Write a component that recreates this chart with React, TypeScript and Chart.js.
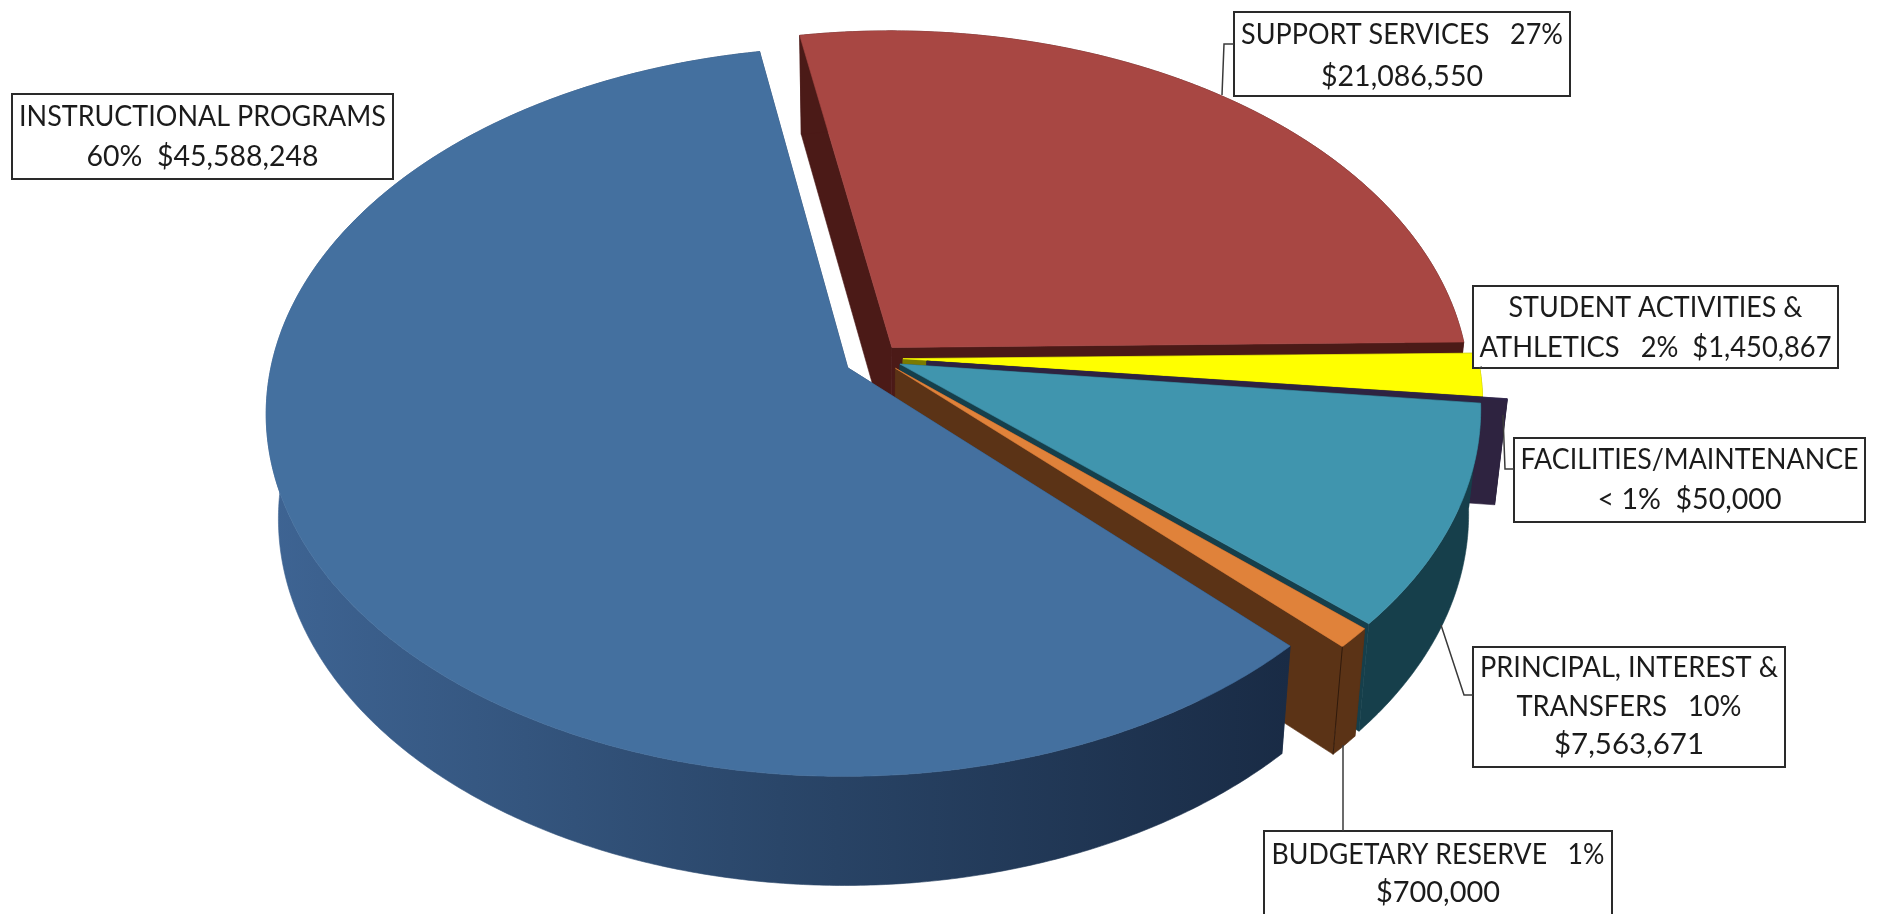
import React, { useEffect, useRef } from "react";
import { Chart, registerables } from "chart.js";

Chart.register(...registerables);

// Budget categories, clockwise from the back of the pie
const categories = [
  "Support Services",
  "Student Activities & Athletics",
  "Facilities/Maintenance",
  "Principal, Interest & Transfers",
  "Budgetary Reserve",
  "Instructional Programs",
];
const amounts = [21086550, 1450867, 50000, 7563671, 700000, 45588248];

// Explosion of each slice, in pixels along its middle direction
const explosion = [22, 25, 49, 24, 24, 34];

const topColors = ["#A84743", "#FFFF00", "#2E2349", "#4095AE", "#E0823A", "#44709F"];
const wallColors = [
  ["#4B1A17"],
  ["#7A7A00"],
  ["#2E2340"],
  ["#163F4B"],
  ["#5B3316"],
  ["#3E6493", "#2A4669", "#192B45"],
];

const calloutLines = [
  ["SUPPORT SERVICES   27%", "$21,086,550"],
  ["STUDENT ACTIVITIES &", "ATHLETICS   2%  $1,450,867"],
  ["FACILITIES/MAINTENANCE", "< 1%  $50,000"],
  ["PRINCIPAL, INTEREST &", "TRANSFERS   10%", "$7,563,671"],
  ["BUDGETARY RESERVE   1%", "$700,000"],
  ["INSTRUCTIONAL PROGRAMS", "60%  $45,588,248"],
];

// Drawn width of each text line
const calloutLineWidths = [
  [322, 162],
  [294, 352],
  [338, 184],
  [298, 225, 150],
  [333, 124],
  [367, 232],
];

// x, y, width, height of each callout box
const calloutBoxes = [
  [1234, 12, 336, 84],
  [1473, 286, 365, 82],
  [1514, 438, 351, 84],
  [1473, 647, 312, 120],
  [1264, 831, 348, 95],
  [12, 94, 381, 85],
];
const calloutLeaders = [
  [[1234, 44], [1224, 44], [1222, 95]],
  [[1479, 368], [1482, 367]],
  [[1514, 469], [1505, 469], [1503, 415]],
  [[1473, 695], [1464, 695], [1441, 625]],
  [[1343, 831], [1343, 745]],
  [],
];
const calloutBaselines = [
  [35, 77],
  [308, 348],
  [460, 500],
  [668, 707, 745],
  [855, 893],
  [117, 157],
];

// Camera model of the 3D pie
const CX = 878;
const CY = 358;
const AX = 575;
const AY = 357;
const PERSPECTIVE = 0.12;
const DEPTH = 104;
const DEPTH_SLOPE = 5;
const SHRINK = 0.02;

function project(u: number, v: number, z: number): [number, number] {
  const w = 1 - PERSPECTIVE * v;
  const k = 1 - SHRINK * z;
  return [CX + (AX * u * k) / w, CY + (AY * v) / w + z * (DEPTH + DEPTH_SLOPE * v)];
}

function fillPath(ctx: CanvasRenderingContext2D, pts: [number, number][], style: any) {
  ctx.beginPath();
  pts.forEach(([x, y], i) => (i ? ctx.lineTo(x, y) : ctx.moveTo(x, y)));
  ctx.closePath();
  ctx.fillStyle = style;
  ctx.strokeStyle = style;
  ctx.lineWidth = 0.6;
  ctx.fill();
  ctx.stroke();
}

function drawSlice(ctx: CanvasRenderingContext2D, arc: any, index: number) {
  const { startAngle, endAngle } = arc;
  const mid = (startAngle + endAngle) / 2;
  const d = arc.options.offset / AX;
  const ox = Math.cos(mid) * d;
  const oy = Math.sin(mid) * d;
  const rim = (a: number, z: number) => project(ox + Math.cos(a), oy + Math.sin(a), z);
  const apex = (z: number) => project(ox, oy, z);

  const stops = wallColors[index];
  let wall: any = stops[0];
  if (stops.length > 1) {
    const g = ctx.createLinearGradient(270, 0, 1290, 0);
    stops.forEach((c, i) => g.addColorStop(i / (stops.length - 1), c));
    wall = g;
  }

  const steps = Math.max(2, Math.ceil((endAngle - startAngle) / 0.008));
  const angles: number[] = [];
  for (let i = 0; i <= steps; i++) angles.push(startAngle + ((endAngle - startAngle) * i) / steps);

  // Radial cut faces, then the curved outer wall, then the top
  fillPath(ctx, [apex(0), rim(startAngle, 0), rim(startAngle, 1), apex(1)], wall);
  fillPath(ctx, [apex(0), rim(endAngle, 0), rim(endAngle, 1), apex(1)], wall);
  fillPath(
    ctx,
    [...angles.map((a) => rim(a, 0)), ...angles.slice().reverse().map((a) => rim(a, 1))],
    wall
  );
  fillPath(ctx, [apex(0), ...angles.map((a) => rim(a, 0))], arc.options.backgroundColor);

  // Corner line where the reserve slice's cut face meets its outer wall
  if (index === 4) {
    ctx.beginPath();
    const [sx, sy] = rim(endAngle, 0);
    const [bx, by] = rim(endAngle, 1);
    ctx.moveTo(sx, sy);
    ctx.lineTo(bx, by);
    ctx.strokeStyle = "rgba(20,10,5,0.6)";
    ctx.lineWidth = 1;
    ctx.stroke();
  }
}

const pie3d = {
  id: "pie3d",
  beforeDatasetsDraw(chart: any) {
    const ctx = chart.ctx;
    chart.getDatasetMeta(0).data.forEach((arc: any, i: number) => drawSlice(ctx, arc, i));
    return false;
  },
  afterDraw(chart: any) {
    const ctx = chart.ctx;
    ctx.save();
    calloutBoxes.forEach(([x, y, w, h], i) => {
      ctx.fillStyle = "#ffffff";
      ctx.fillRect(x, y, w, h);
      ctx.strokeStyle = "#2a2a2a";
      ctx.lineWidth = 2;
      ctx.strokeRect(x, y, w, h);

      const leader = calloutLeaders[i];
      if (leader.length) {
        ctx.beginPath();
        leader.forEach(([lx, ly], j) => (j ? ctx.lineTo(lx, ly) : ctx.moveTo(lx, ly)));
        ctx.strokeStyle = "#3a3a3a";
        ctx.lineWidth = 1.5;
        ctx.stroke();
      }

      ctx.fillStyle = "#1b1b1b";
      ctx.font = "28px Lato";
      ctx.textAlign = "center";
      ctx.textBaseline = "middle";
      calloutLines[i].forEach((line, j) => {
        // Each line is stretched horizontally to its drawn width
        const sx = calloutLineWidths[i][j] / ctx.measureText(line).width;
        ctx.save();
        ctx.translate(x + w / 2, calloutBaselines[i][j]);
        ctx.scale(sx, 1);
        ctx.fillText(line, 0, 0);
        ctx.restore();
      });
    });
    ctx.restore();
  },
};

export default function App() {
  const ref = useRef<HTMLCanvasElement>(null);
  useEffect(() => {
    const chart = new Chart(ref.current as HTMLCanvasElement, {
      type: "pie",
      data: {
        labels: categories,
        datasets: [
          {
            data: amounts,
            backgroundColor: topColors,
            offset: explosion,
            borderWidth: 0,
          },
        ],
      },
      options: {
        responsive: false,
        animation: false,
        rotation: -10.2,
        events: [],
        plugins: { legend: { display: false }, tooltip: { enabled: false } },
      },
      plugins: [pie3d],
    } as any);
    return () => chart.destroy();
  }, []);
  return (
    <div style={{ position: "fixed", left: 0, top: 0, width: 1881, height: 914, background: "#fff" }}>
      <canvas ref={ref} width={1881} height={914} style={{ display: "block" }} />
    </div>
  );
}
